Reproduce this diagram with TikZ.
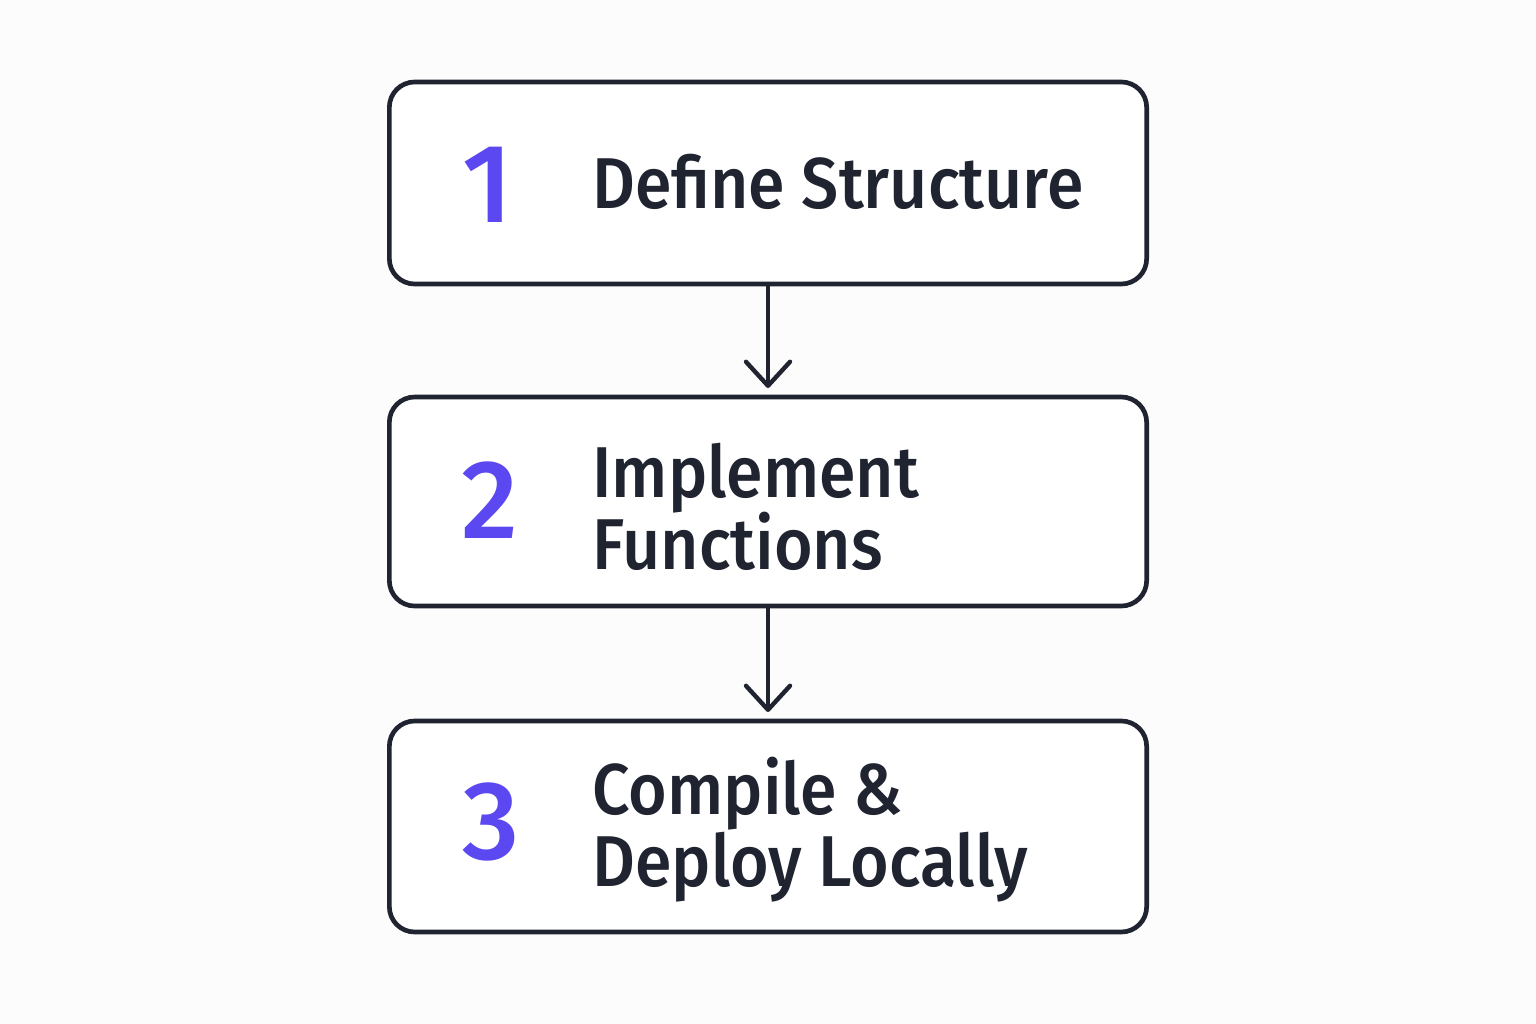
\documentclass[tikz,border=0pt]{standalone}
\usepackage{fontspec}
\setmainfont{Fira Sans}[UprightFont={* Medium}]
\newfontfamily\lblfont{Fira Sans}[UprightFont={* Medium}, FakeStretch=0.92]
\usetikzlibrary{arrows.meta}
\definecolor{bgc}{HTML}{FCFCFC}
\definecolor{ink}{HTML}{1F2430}
\definecolor{purp}{HTML}{5B48F0}
\tikzset{
  stepbox/.style={draw=ink, line width=3.5pt, rounded corners=19pt, fill=white,
    minimum width=568pt, inner sep=0pt},
  num/.style={text=purp, font=\fontsize{84}{84}\selectfont, inner sep=0pt},
  lbl/.style={text=ink, font=\lblfont\fontsize{54}{54}\selectfont, inner sep=0pt, anchor=base west},
  upper/.style={text depth=0pt},
  conn/.style={draw=ink, line width=3.3pt, -{Straight Barb[length=18pt,width=33pt,line width=3.3pt,round]}, shorten >=5pt}
}
\begin{document}
\begin{tikzpicture}[x=0.75pt,y=-0.75pt]
\useasboundingbox[fill=bgc] (0,0) rectangle (1536,1024);
\node[stepbox, minimum height=151.5pt] (b1) at (768,183) {};
\node[stepbox, minimum height=156.75pt] (b2) at (768,501.5) {};
\node[stepbox, minimum height=158.25pt] (b3) at (768,826.5) {};
\node[num] (n1) at (488,185) {1};
\node[num] (n2) at (490,500) {2};
\node[num] (n3) at (491,822) {3};
\node[lbl] (t1) at (592,208) {Define Structure};
\node[lbl, upper] (t2a) at (592,497) {Implement};
\node[lbl] (t2b) at (592,569) {Functions};
\node[lbl, upper] (t3a) at (592,814) {Compile \&};
\node[lbl] (t3b) at (592,886) {Deploy Locally};
\draw[conn] (b1.south) -- (b2.north);
\draw[conn] (b2.south) -- (b3.north);
\end{tikzpicture}
\end{document}
